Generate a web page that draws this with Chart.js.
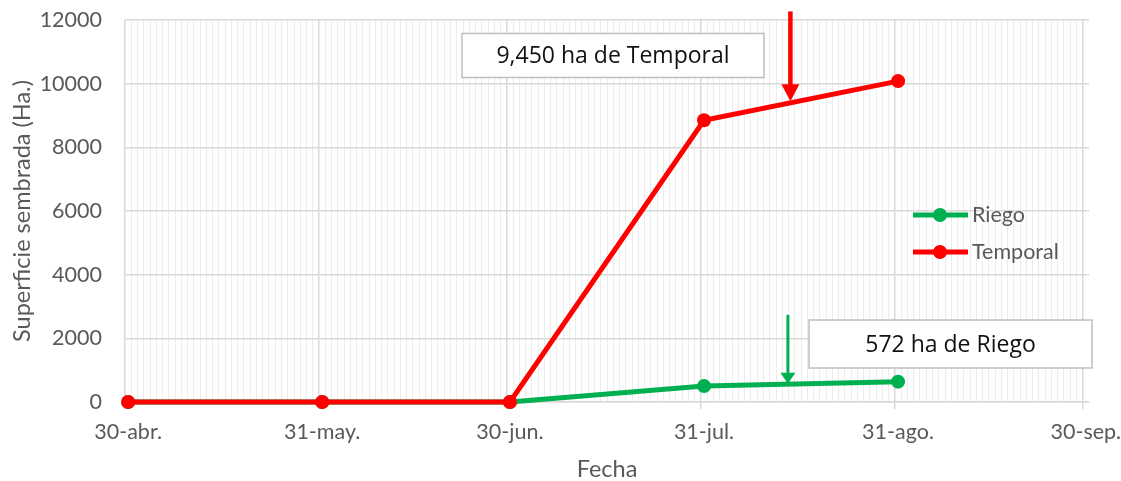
<!DOCTYPE html>
<html><head><meta charset="utf-8">
<script src="https://cdn.jsdelivr.net/npm/chart.js@4.4.0/dist/chart.umd.min.js"></script>
<style>html,body{margin:0;padding:0;background:#fff;}#wrap{width:1121px;height:481px;}</style>
</head><body><div id="wrap"><canvas id="c" width="1121" height="481"></canvas></div>
<script>
// ---- data ----
const tickLabels = ['30-abr.', '31-may.', '30-jun.', '31-jul.', '31-ago.', '30-sep.'];
const tickDays = [0, 31, 61, 92, 123, 153];   // days after 30-abr
const pointDays = [0, 31, 61, 92, 123];
const riego = [0, 0, 0, 500, 640];
const temporal = [0, 0, 0, 8850, 10080];
const seriesNames = ['Riego', 'Temporal'];
const seriesColors = ['#00b050', '#ff0000'];
const noteTexts = ['572 ha de Riego', '9,450 ha de Temporal'];
const noteValues = [572, 9450];
const arrowDays = [105.4, 105.8];
const arrowTopValues = [2740, 12270];
const totalDays = 154;

const FONT = 'Lato';
const GREY = '#595959';

function isMajor(v) { return tickDays.some(d => Math.abs(d - 0.5 - v) < 1e-6); }

const extras = {
  id: 'extras',
  afterDraw(chart) {
    const ctx = chart.ctx, xs = chart.scales.x, ys = chart.scales.y;
    ctx.save();
    // arrows
    const arrowStyle = [{w: 3, hw: 15, hl: 11}, {w: 4.5, hw: 18, hl: 17}];
    for (let i = 0; i < 2; i++) {
      const x = xs.getPixelForValue(arrowDays[i]);
      const yTop = ys.getPixelForValue(arrowTopValues[i]);
      const yTip = ys.getPixelForValue(noteValues[i]);
      const s = arrowStyle[i];
      ctx.strokeStyle = seriesColors[i];
      ctx.fillStyle = seriesColors[i];
      ctx.lineWidth = s.w;
      ctx.beginPath(); ctx.moveTo(x, yTop); ctx.lineTo(x, yTip - s.hl + 1); ctx.stroke();
      ctx.beginPath(); ctx.moveTo(x - s.hw / 2, yTip - s.hl); ctx.lineTo(x + s.hw / 2, yTip - s.hl); ctx.lineTo(x, yTip); ctx.closePath(); ctx.fill();
    }
    // boxes
    const boxes = [[809, 320, 283, 48], [462, 33.5, 302, 44]];
    ctx.font = '23px "Open Sans"';
    ctx.textAlign = 'center'; ctx.textBaseline = 'middle';
    for (let i = 0; i < 2; i++) {
      const [bx, by, bw, bh] = boxes[i];
      ctx.fillStyle = '#fff'; ctx.fillRect(bx, by, bw, bh);
      ctx.strokeStyle = '#bfbfbf'; ctx.lineWidth = 1.5; ctx.strokeRect(bx, by, bw, bh);
      ctx.fillStyle = '#111';
      ctx.fillText(noteTexts[i], bx + bw / 2, by + bh / 2 + 1);
    }
    // legend
    const ly = [215, 252];
    ctx.textAlign = 'left';
    ctx.font = '21.5px ' + FONT;
    for (let i = 0; i < 2; i++) {
      ctx.strokeStyle = seriesColors[i]; ctx.fillStyle = seriesColors[i];
      ctx.lineWidth = 5;
      ctx.beginPath(); ctx.moveTo(913, ly[i]); ctx.lineTo(968, ly[i]); ctx.stroke();
      ctx.beginPath(); ctx.arc(940, ly[i], 7, 0, Math.PI * 2); ctx.fill();
      ctx.fillStyle = GREY;
      ctx.fillText(seriesNames[i], 972, ly[i]);
    }
    ctx.restore();
  }
};

function draw() {
  new Chart(document.getElementById('c'), {
    type: 'line',
    data: {
      datasets: [
        {label: seriesNames[1], data: pointDays.map((d, i) => ({x: d, y: temporal[i]})),
         borderColor: seriesColors[1], backgroundColor: seriesColors[1], order: 0, clip: false},
        {label: seriesNames[0], data: pointDays.map((d, i) => ({x: d, y: riego[i]})),
         borderColor: seriesColors[0], backgroundColor: seriesColors[0], order: 1, clip: false}
      ]
    },
    options: {
      responsive: false, animation: false, devicePixelRatio: 1,
      layout: {padding: {top: 20, right: 32, left: 0, bottom: 0}},
      elements: {
        line: {borderWidth: 5, tension: 0},
        point: {radius: 7, borderWidth: 0, hoverRadius: 7}
      },
      plugins: {legend: {display: false}, tooltip: {enabled: false}},
      scales: {
        x: {
          type: 'linear', min: -0.5, max: totalDays - 0.5,
          afterBuildTicks: (s) => { s.ticks = []; for (let d = 0; d < totalDays; d++) s.ticks.push({value: d - 0.5}); },
          afterFit: (s) => { s.height = 79; s.paddingLeft = 0; s.paddingRight = 0; },
          ticks: {
            autoSkip: false, maxRotation: 0, minRotation: 0, labelOffset: 3.1, padding: 10,
            color: GREY, font: {family: FONT, size: 21.5},
            callback: (v) => { const i = tickDays.findIndex(d => Math.abs(d - 0.5 - v) < 1e-6); return i >= 0 ? tickLabels[i] : ''; }
          },
          grid: {
            color: (c) => isMajor(c.tick.value) ? '#d9d9d9' : '#ececec',
            lineWidth: (c) => isMajor(c.tick.value) ? 1.5 : 1,
            tickColor: (c) => isMajor(c.tick.value) ? '#d9d9d9' : 'rgba(0,0,0,0)',
            tickLength: 7
          },
          border: {color: '#d9d9d9', width: 1.5},
          title: {display: true, text: 'Fecha', color: GREY, font: {family: FONT, size: 23.5}, padding: {top: 0, bottom: -3}}
        },
        y: {
          min: 0, max: 12000,
          afterFit: (s) => { s.width = 125; s.paddingTop = 0; s.paddingBottom = 0; },
          ticks: {stepSize: 2000, color: GREY, font: {family: FONT, size: 21.5}, padding: 23,
                  callback: (v) => String(v)},
          grid: {color: '#d9d9d9', lineWidth: 1.5, drawTicks: false},
          border: {display: false},
          title: {display: true, text: 'Superficie sembrada (Ha.)', color: GREY, font: {family: FONT, size: 23.5}, padding: {top: 8, bottom: 0}}
        }
      }
    },
    plugins: [extras]
  });
}
Promise.all([document.fonts.load('20px Lato'), document.fonts.load('21px "Open Sans"')]).then(draw, draw);
</script></body></html>
